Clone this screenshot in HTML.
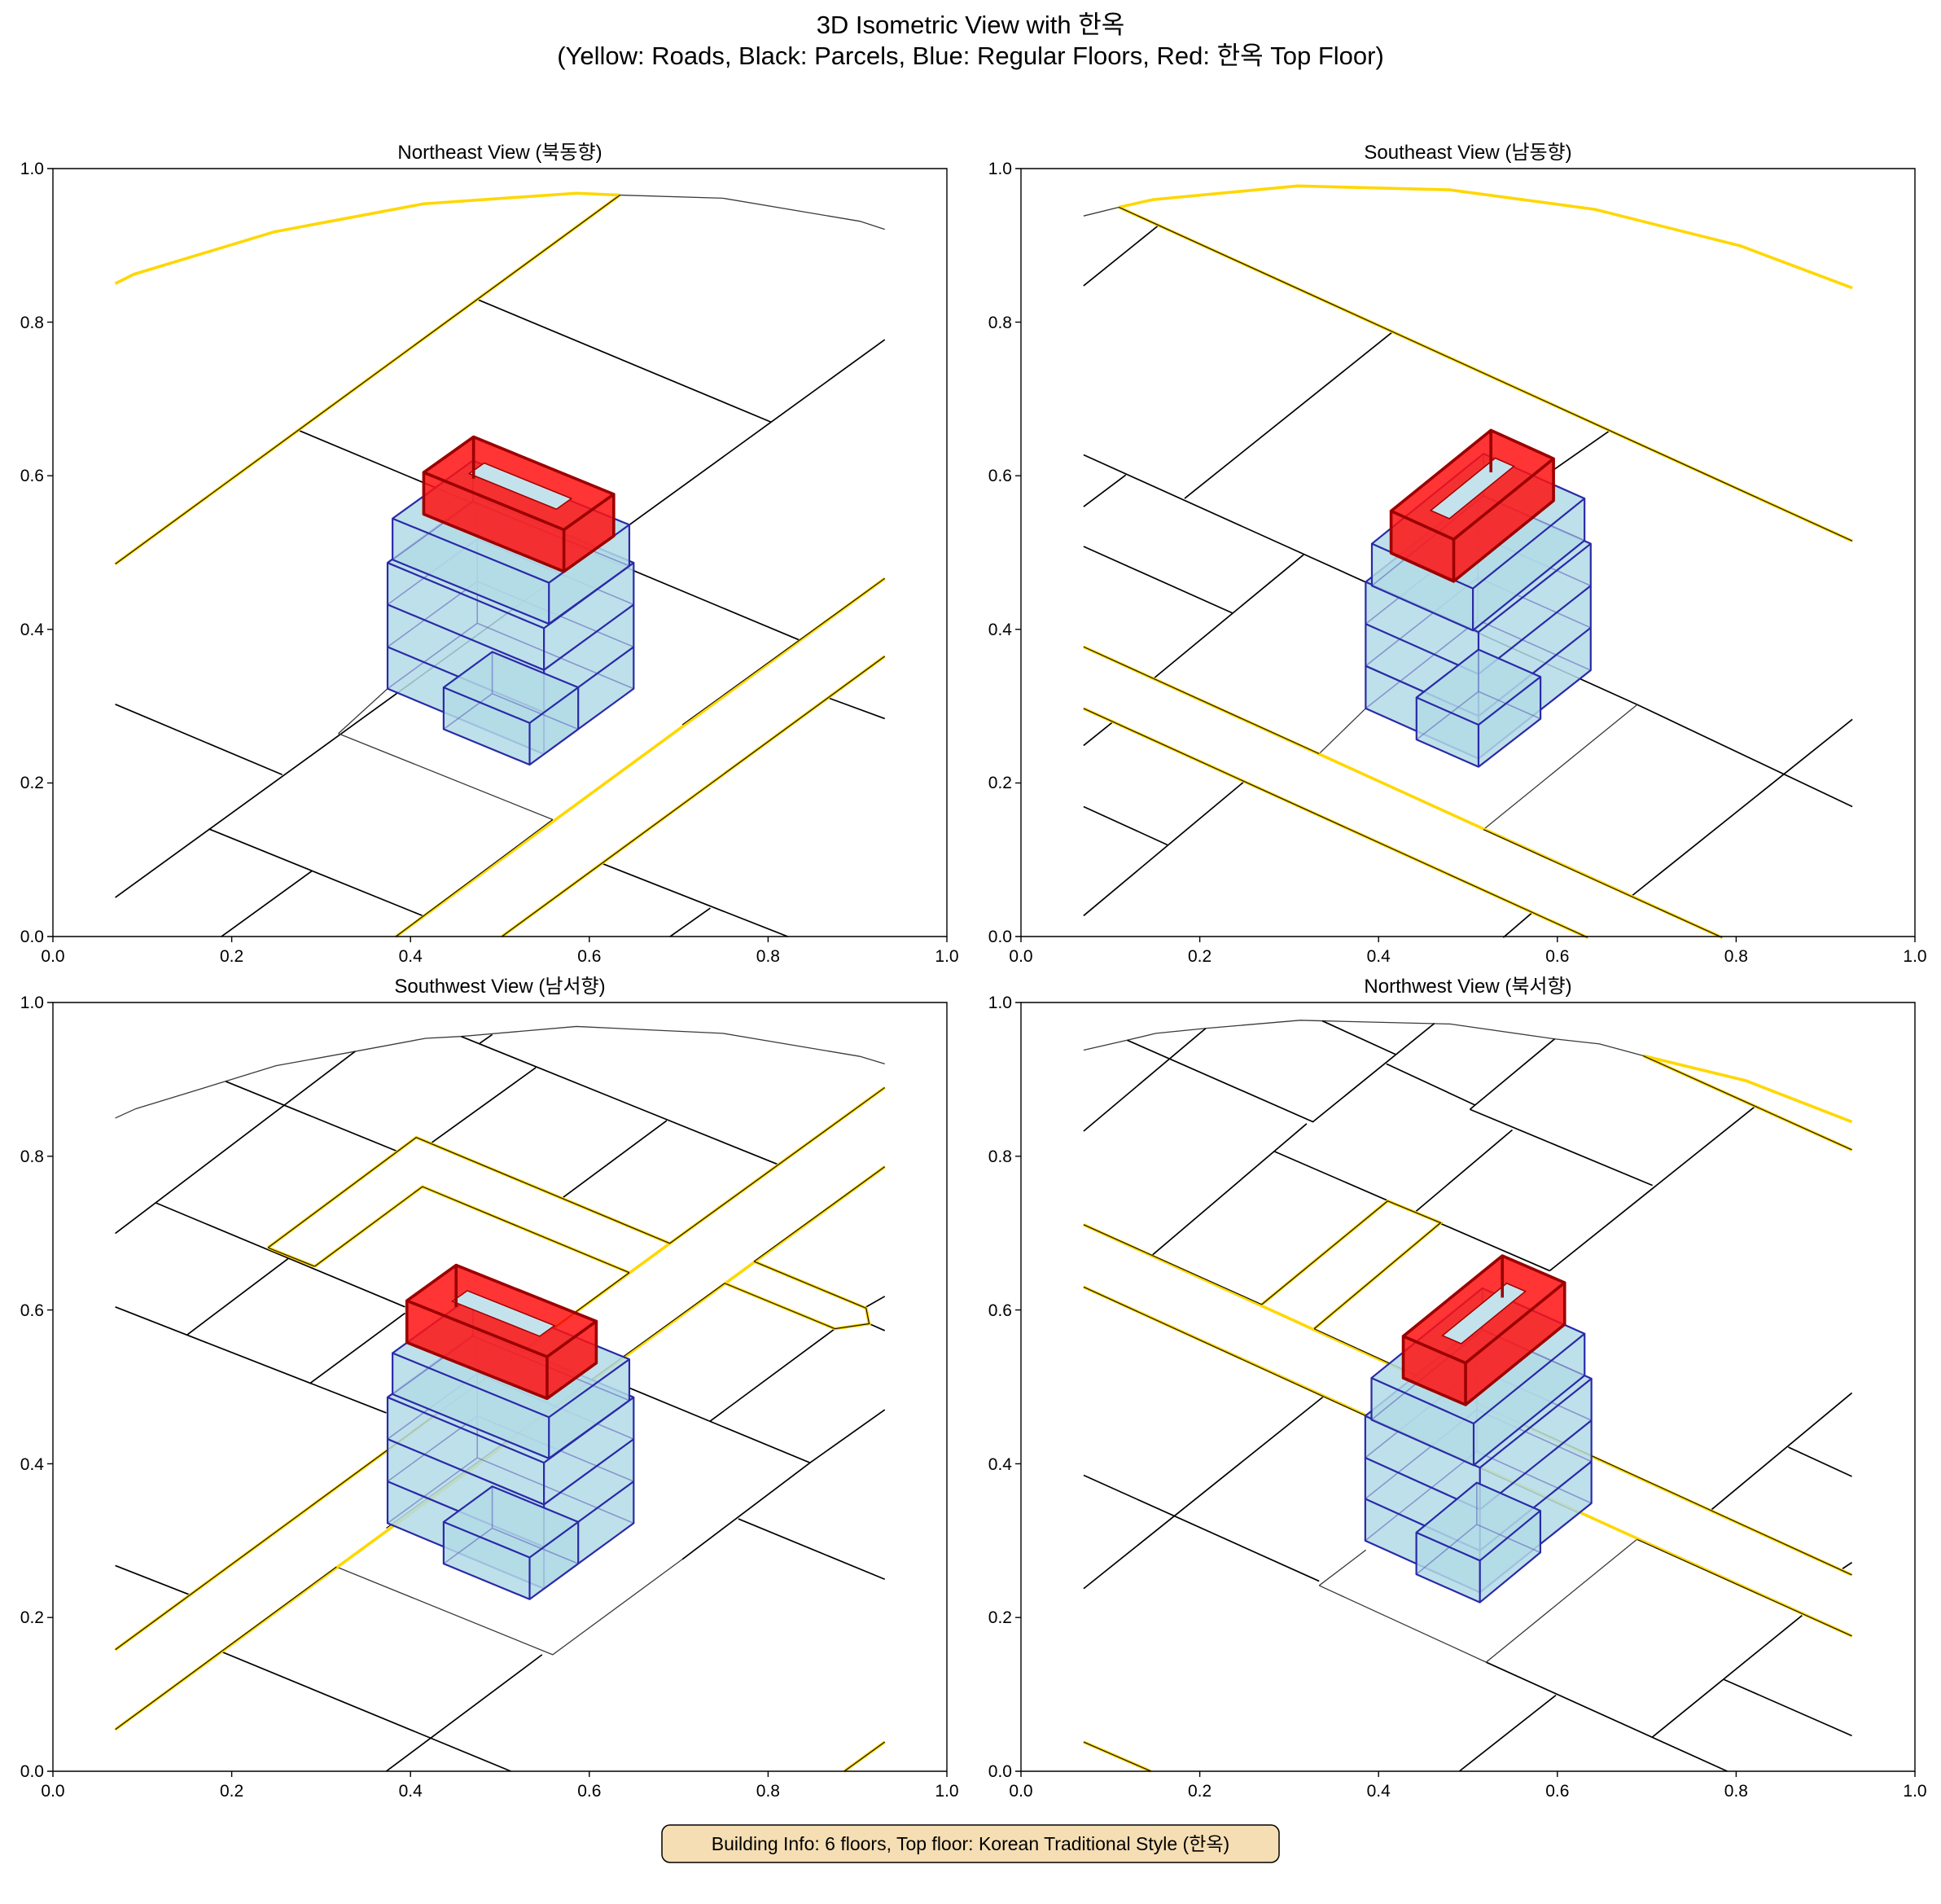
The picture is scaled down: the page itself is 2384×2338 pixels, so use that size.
<!DOCTYPE html>
<html><head><meta charset="utf-8">
<style>
html,body{margin:0;padding:0;background:#fff}
svg{display:block}
path,polygon,line,rect{vector-effect:non-scaling-stroke}
.k{stroke:#000;stroke-width:1.7;fill:none}
.g{stroke:#3a3a3a;stroke-width:1.3;fill:none}
.y{stroke:#ffd700;stroke-width:3.6;fill:none}
.yk{stroke:#1a1400;stroke-width:1.2;fill:none}
.bf{fill:#b3dae6;fill-opacity:.85;stroke:none}
.be{stroke:#2a2aa8;stroke-width:2.2;fill:none;stroke-linejoin:round}
.bh{stroke:#5a5ab8;stroke-width:1.6;fill:none;opacity:.55}
.rf{fill:#ff1010;fill-opacity:.85;stroke:none}
.rh{fill:#c4e2ec;stroke:#a00000;stroke-width:1.5}
.re{stroke:#9b0000;stroke-width:3.6;fill:none;stroke-linejoin:round}
text{font-family:"Liberation Sans","Noto Sans CJK KR",sans-serif;fill:#000}
.t{font-size:21px}
.ti{font-size:24px;text-anchor:middle}
.ax{stroke:#000;stroke-width:1.4;fill:none}
</style></head><body>
<svg width="2384" height="2338" viewBox="0 0 2384 2338" xmlns="http://www.w3.org/2000/svg">
<rect width="2384" height="2338" fill="#fff"/>
<text x="1192" y="41" font-size="31" text-anchor="middle">3D Isometric View with 한옥</text>
<text x="1192" y="79" font-size="31" text-anchor="middle">(Yellow: Roads, Black: Parcels, Blue: Regular Floors, Red: 한옥 Top Floor)</text>

<!-- PANEL 1 -->
<g transform="scale(0.7653)">
<path class="y" d="M185,455 L215,440 L440,372 L680,327 L925,310 L995,313"/>
<path class="g" d="M995,313 L1160,318 L1380,355 L1420,368"/>
<path class="k" d="M765,480 L1237,677 M478,690 L1283,1027 M1330,1120 L1420,1153 M185,1440 L1420,545 M185,1130 L453,1243 M335,1330 L680,1470 M355,1503 L500,1398 M965,1385 L1265,1503 M1075,1503 L1140,1457"/>
<path class="g" d="M543,1177 L887,1315 M543,1177 L622,1105"/>
<path class="y" d="M185,905 L995,313 M635,1503 L1420,928 M805,1503 L1420,1053"/>
<path class="yk" d="M185,905 L995,313 M635,1503 L887,1315 M1095,1163 L1420,928 M805,1503 L1420,1053"/>
<polygon class="bf" points="622,903 766,798 1017,903 1017,1105 873,1210 622,1105"/>
<path class="bh" d="M766,798 L766,1000 M622,1105 L766,1000 L1017,1105 M622,970 L766,865 L1017,970 M622,1038 L766,933 L1017,1038"/>
<path class="be" d="M622,903 L873,1008 L1017,903 L766,798 Z M622,903 L622,1105 L873,1210 L1017,1105 L1017,903 M873,1008 L873,1210 M622,970 L873,1075 L1017,970 M622,1038 L873,1143 L1017,1038"/>
<polygon class="bf" points="630,832 759,739 1010,842 1010,908 881,1001 630,898"/>
<path class="bh" d="M759,739 L759,805 M630,898 L759,805 L1010,908"/>
<path class="be" d="M630,832 L881,935 L1010,842 L759,739 Z M630,832 L630,898 L881,1001 L1010,908 L1010,842 M881,935 L881,1001"/>
<polygon class="rf" points="680,758 760,701 985,793 985,860 905,917 680,825"/>
<polygon class="rh" points="753,760 893,817 917,800 777,743"/>
<path class="re" d="M680,758 L905,850 L985,793 L760,701 Z M680,758 L680,825 L905,917 L985,860 L985,793 M905,850 L905,917 M760,701 L760,768"/>
<polygon class="bf" points="712,1103 790,1046 928,1103 928,1170 850,1227 712,1170"/>
<path class="bh" d="M790,1046 L790,1113 M712,1170 L790,1113 L928,1170"/>
<path class="be" d="M712,1103 L850,1160 L928,1103 L790,1046 Z M712,1103 L712,1170 L850,1227 L928,1170 L928,1103 M850,1160 L850,1227"/>
</g>

<!-- PANEL 2 -->
<g transform="translate(1190,150) scale(0.7615,0.6697)">
<path class="y" d="M242,156 L297,142 L530,117 L775,124 L1010,160 L1245,227 L1425,304"/>
<path class="g" d="M185,172 L242,156"/>
<path class="k" d="M185,300 L305,190 M348,690 L683,385 M185,705 L253,647 M298,1020 L540,793 M185,1143 L232,1100 M185,1455 L443,1210 M862,1495 L908,1450 M1070,1418 L1425,1095 M940,640 L1032,567 M185,610 L1078,1068 L1425,1255 M185,778 L425,900 M185,1255 L320,1325"/>
<path class="g" d="M830,1297 L1078,1068 M565,1158 L640,1075"/>
<path class="y" d="M242,156 L1425,768 M185,962 L1215,1495 M185,1075 L998,1495"/>
<path class="yk" d="M242,156 L1425,768 M185,962 L565,1158 M830,1297 L1215,1495 M185,1075 L998,1495"/>
<polygon class="bf" points="640,843 821,681 1003,773 1003,1005 822,1167 640,1075"/>
<path class="bh" d="M821,681 L821,913 M640,1075 L821,913 L1003,1005 M640,920 L821,758 L1003,850 M640,997 L821,835 L1003,927"/>
<path class="be" d="M640,843 L822,935 L1003,773 L821,681 Z M640,843 L640,1075 L822,1167 L1003,1005 L1003,773 M822,935 L822,1167 M640,920 L822,1012 L1003,850 M640,997 L822,1089 L1003,927"/>
<polygon class="bf" points="650,773 830,608 993,690 993,767 813,932 650,850"/>
<path class="bh" d="M830,608 L830,685 M650,850 L830,685 L993,767"/>
<path class="be" d="M650,773 L813,855 L993,690 L830,608 Z M650,773 L650,850 L813,932 L993,767 L993,690 M813,855 L813,932"/>
<polygon class="rf" points="681,713 842,565 943,617 943,694 782,842 681,790"/>
<polygon class="rh" points="745,712 775,727 879,631 849,616"/>
<path class="re" d="M681,713 L782,765 L943,617 L842,565 Z M681,713 L681,790 L782,842 L943,694 L943,617 M782,765 L782,842 M842,565 L842,642"/>
<polygon class="bf" points="722,1055 822,967 922,1017 922,1094 822,1182 722,1132"/>
<path class="bh" d="M822,967 L822,1044 M722,1132 L822,1044 L922,1094"/>
<path class="be" d="M722,1055 L822,1105 L922,1017 L822,967 Z M722,1055 L722,1132 L822,1182 L922,1094 L922,1017 M822,1105 L822,1182"/>
</g>

<!-- PANEL 3 -->
<g transform="translate(0,1138) scale(0.7653)">
<path class="g" d="M185,307 L218,292 L362,248 L443,223 L570,200 L683,179 L740,176 L925,160 L1160,171 L1380,208 L1420,220"/>
<path class="k" d="M362,248 L637,360 M740,176 L1250,382 M770,187 L790,173 M185,492 L570,200 M692,347 L860,226 M904,434 L1070,311 M250,443 L650,610 M300,655 L463,532 M185,610 L620,780 M497,733 L650,620 M1010,740 L1300,860 L1420,775 M1140,793 L1340,645 M1185,950 L1420,1047 M1095,1015 L1300,860 M1390,610 L1420,593 M1395,637 L1420,648 M185,1025 L305,1072 M355,1163 L820,1355 M620,1355 L870,1168"/>
<path class="g" d="M540,1027 L887,1168 L1095,1015"/>
<path class="y" d="M430,515 L668,338 L1075,508 L1420,258 M1075,508 L185,1160 M505,545 L678,417 L1010,555 M430,515 L505,545 M1420,385 L185,1288 M1210,537 L1390,612 L1395,637 L1340,645 L1163,572 M1355,1355 L1420,1308"/>
<path class="yk" d="M430,515 L668,338 L1075,508 L1420,258 M1010,555 L185,1160 M505,545 L678,417 L1010,555 M430,515 L505,545 M1420,385 L1210,537 M1163,572 L620,965 M540,1027 L185,1288 M1210,537 L1390,612 L1395,637 L1340,645 L1163,572 M1355,1355 L1420,1308"/>
<polygon class="bf" points="622,755 766,650 1017,755 1017,957 873,1062 622,957"/>
<path class="bh" d="M766,650 L766,852 M622,957 L766,852 L1017,957 M622,822 L766,717 L1017,822 M622,890 L766,785 L1017,890"/>
<path class="be" d="M622,755 L873,860 L1017,755 L766,650 Z M622,755 L622,957 L873,1062 L1017,957 L1017,755 M873,860 L873,1062 M622,822 L873,927 L1017,822 M622,890 L873,995 L1017,890"/>
<polygon class="bf" points="630,684 759,591 1010,694 1010,760 881,853 630,750"/>
<path class="bh" d="M759,591 L759,657 M630,750 L759,657 L1010,760"/>
<path class="be" d="M630,684 L881,787 L1010,694 L759,591 Z M630,684 L630,750 L881,853 L1010,760 L1010,694 M881,787 L881,853"/>
<polygon class="rf" points="653,600 732,543 957,633 957,700 878,757 653,667"/>
<polygon class="rh" points="726,601 866,657 890,640 750,584"/>
<path class="re" d="M653,600 L878,690 L957,633 L732,543 Z M653,600 L653,667 L878,757 L957,700 L957,633 M878,690 L878,757 M732,543 L732,610"/>
<polygon class="bf" points="712,955 790,898 928,955 928,1022 850,1079 712,1022"/>
<path class="bh" d="M790,898 L790,965 M712,1022 L790,965 L928,1022"/>
<path class="be" d="M712,955 L850,1012 L928,955 L790,898 Z M712,955 L712,1022 L850,1079 L928,1022 L928,955 M850,1012 L850,1079"/>
</g>

<!-- PANEL 4 -->
<g transform="translate(1184,1138) scale(0.7653)">
<path class="g" d="M192,198 L262,182 L308,171 L388,163 L540,150 L575,151 L780,156 L948,180 L1020,188 L1090,207"/>
<path class="y" d="M1090,207 L1255,247 L1425,313"/>
<path class="k" d="M262,182 L560,313 L755,155 M575,151 L693,205 M678,220 L820,286 M192,328 L388,163 M812,293 L948,180 M812,293 L1105,415 M302,527 L550,316 M497,360 L940,552 M725,457 L880,326 M940,552 L1270,288 M1200,935 L1425,748 M1323,835 L1425,882 M192,880 L570,1050 M192,1062 L578,753 M838,1180 L1225,1355 M1220,1208 L1425,1298 M795,1355 L950,1233 M1105,1300 L1345,1105 M1410,1030 L1425,1020"/>
<path class="g" d="M570,1057 L838,1180 L1080,983 M570,1057 L645,1000"/>
<path class="y" d="M1090,207 L1425,358 M192,478 L1425,1040 M192,578 L1425,1138 M478,606 L680,440 L765,475 L562,645 M192,1308 L300,1355"/>
<path class="yk" d="M1090,207 L1425,358 M192,478 L478,606 M562,645 L1425,1040 M192,578 L985,940 M1080,983 L1425,1138 M478,606 L680,440 L765,475 L562,645 M192,1308 L300,1355"/>
<polygon class="bf" points="644,785 823,642 1007,725 1007,925 828,1068 644,985"/>
<path class="bh" d="M823,642 L823,842 M644,985 L823,842 L1007,925 M644,852 L823,709 L1007,792 M644,918 L823,775 L1007,858"/>
<path class="be" d="M644,785 L828,868 L1007,725 L823,642 Z M644,785 L644,985 L828,1068 L1007,925 L1007,725 M828,868 L828,1068 M644,852 L828,935 L1007,792 M644,918 L828,1001 L1007,858"/>
<polygon class="bf" points="654,724 832,580 996,653 996,720 818,864 654,791"/>
<path class="bh" d="M832,580 L832,647 M654,791 L832,647 L996,720"/>
<path class="be" d="M654,724 L818,797 L996,653 L832,580 Z M654,724 L654,791 L818,864 L996,720 L996,653 M818,797 L818,864"/>
<polygon class="rf" points="705,657 864,528 964,571 964,638 805,767 705,724"/>
<polygon class="rh" points="768,656 798,669 901,585 871,572"/>
<path class="re" d="M705,657 L805,700 L964,571 L864,528 Z M705,657 L705,724 L805,767 L964,638 L964,571 M805,700 L805,767 M864,528 L864,595"/>
<polygon class="bf" points="726,972 823,892 925,937 925,1004 828,1084 726,1039"/>
<path class="bh" d="M823,892 L823,959 M726,1039 L823,959 L925,1004"/>
<path class="be" d="M726,972 L828,1017 L925,937 L823,892 Z M726,972 L726,1039 L828,1084 L925,1004 L925,937 M828,1017 L828,1084"/>
</g>

<!-- AXES -->
<g>
<rect class="ax" x="65" y="207" width="1098" height="943"/>
<rect class="ax" x="1254" y="207" width="1098" height="943"/>
<rect class="ax" x="65" y="1231" width="1098" height="944"/>
<rect class="ax" x="1254" y="1231" width="1098" height="944"/>
<path class="ax" d="M65,1150v7M284.6,1150v7M504.2,1150v7M723.8,1150v7M943.4,1150v7M1163,1150v7
M1254,1150v7M1473.6,1150v7M1693.2,1150v7M1912.8,1150v7M2132.4,1150v7M2352,1150v7
M65,2175v7M284.6,2175v7M504.2,2175v7M723.8,2175v7M943.4,2175v7M1163,2175v7
M1254,2175v7M1473.6,2175v7M1693.2,2175v7M1912.8,2175v7M2132.4,2175v7M2352,2175v7
M65,1150h-7M65,961.4h-7M65,772.8h-7M65,584.2h-7M65,395.6h-7M65,207h-7
M1254,1150h-7M1254,961.4h-7M1254,772.8h-7M1254,584.2h-7M1254,395.6h-7M1254,207h-7
M65,2175h-7M65,1986.2h-7M65,1797.4h-7M65,1608.6h-7M65,1419.8h-7M65,1231h-7
M1254,2175h-7M1254,1986.2h-7M1254,1797.4h-7M1254,1608.6h-7M1254,1419.8h-7M1254,1231h-7"/>
</g>
<g class="t" text-anchor="middle">
<text x="65" y="1181">0.0</text><text x="284.6" y="1181">0.2</text><text x="504.2" y="1181">0.4</text><text x="723.8" y="1181">0.6</text><text x="943.4" y="1181">0.8</text><text x="1163" y="1181">1.0</text>
<text x="1254" y="1181">0.0</text><text x="1473.6" y="1181">0.2</text><text x="1693.2" y="1181">0.4</text><text x="1912.8" y="1181">0.6</text><text x="2132.4" y="1181">0.8</text><text x="2352" y="1181">1.0</text>
<text x="65" y="2206">0.0</text><text x="284.6" y="2206">0.2</text><text x="504.2" y="2206">0.4</text><text x="723.8" y="2206">0.6</text><text x="943.4" y="2206">0.8</text><text x="1163" y="2206">1.0</text>
<text x="1254" y="2206">0.0</text><text x="1473.6" y="2206">0.2</text><text x="1693.2" y="2206">0.4</text><text x="1912.8" y="2206">0.6</text><text x="2132.4" y="2206">0.8</text><text x="2352" y="2206">1.0</text>
</g>
<g class="t" text-anchor="end">
<text x="54" y="1157">0.0</text><text x="54" y="968">0.2</text><text x="54" y="780">0.4</text><text x="54" y="591">0.6</text><text x="54" y="403">0.8</text><text x="54" y="214">1.0</text>
<text x="1243" y="1157">0.0</text><text x="1243" y="968">0.2</text><text x="1243" y="780">0.4</text><text x="1243" y="591">0.6</text><text x="1243" y="403">0.8</text><text x="1243" y="214">1.0</text>
<text x="54" y="2182">0.0</text><text x="54" y="1993">0.2</text><text x="54" y="1805">0.4</text><text x="54" y="1616">0.6</text><text x="54" y="1427">0.8</text><text x="54" y="1238">1.0</text>
<text x="1243" y="2182">0.0</text><text x="1243" y="1993">0.2</text><text x="1243" y="1805">0.4</text><text x="1243" y="1616">0.6</text><text x="1243" y="1427">0.8</text><text x="1243" y="1238">1.0</text>
</g>
<text class="ti" x="614" y="195">Northeast View (북동향)</text>
<text class="ti" x="1803" y="195">Southeast View (남동향)</text>
<text class="ti" x="614" y="1219">Southwest View (남서향)</text>
<text class="ti" x="1803" y="1219">Northwest View (북서향)</text>

<rect x="813" y="2241" width="758" height="46" rx="10" ry="10" fill="#f5deb3" stroke="#000" stroke-width="1.5"/>
<text x="1192" y="2272" font-size="23" text-anchor="middle">Building Info: 6 floors, Top floor: Korean Traditional Style (한옥)</text>
</svg>
</body></html>
